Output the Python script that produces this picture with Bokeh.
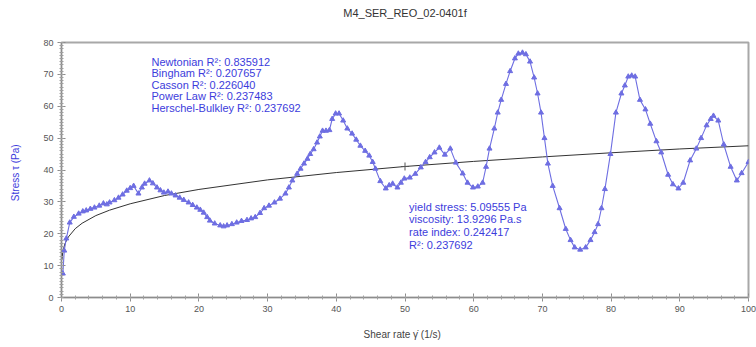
from bokeh.plotting import figure
from bokeh.models import Range1d, Label, FixedTicker, Title
from bokeh.embed import file_html
from bokeh.resources import INLINE

# measured data (shear rate, stress)
shear_rate = [0.2, 0.4, 0.7, 1.2, 1.8, 2.5, 3.1, 3.6, 4.2, 4.8, 5.5, 6.1, 6.6, 7.0, 7.7, 8.3, 8.9, 9.5, 10.0, 10.5,
              11.2, 11.7, 12.1, 12.8, 13.3, 13.9, 14.4, 14.9, 15.5, 16.0, 16.6, 17.2, 17.8, 18.5, 19.1, 19.7, 20.2,
              20.7, 21.2, 21.6, 22.3, 23.1, 23.6, 24.1, 24.8, 25.5, 26.2, 27.0, 27.6, 28.2, 28.9, 29.5, 30.2, 31.0,
              31.8, 32.6, 33.1, 33.6, 34.3, 34.8, 35.3, 35.8, 36.2, 36.7, 37.2, 37.6, 38.0, 38.5, 39.0, 39.4, 39.9,
              40.4, 41.0, 41.6, 42.3, 42.9, 43.5, 44.2, 44.8, 45.3, 45.7, 46.4, 47.2, 47.7, 48.2, 48.9, 49.4, 49.9,
              50.7, 51.5, 52.3, 53.0, 53.6, 54.3, 55.0, 55.8, 56.6, 57.4, 58.4, 59.1, 59.9, 60.6, 61.3, 61.8, 62.3,
              63.0, 63.5, 64.0, 64.7, 65.3, 66.0, 66.5, 67.1, 67.6, 68.2, 68.8, 69.3, 69.8, 70.3, 70.8, 71.5, 72.5,
              73.4, 74.1, 74.7, 75.5, 76.3, 77.0, 77.6, 78.1, 78.6, 79.1, 79.9, 80.7, 81.5, 82.0, 82.5, 83.0, 83.5,
              84.2, 85.0, 85.7, 86.6, 87.3, 88.3, 89.0, 89.8, 90.5, 91.5, 92.4, 93.1, 93.9, 94.5, 94.9, 95.6, 96.4,
              97.4, 98.3, 99.0, 100.0]
stress = [7.5, 14.7, 18.5, 23.5, 25.3, 26.3, 27.0, 27.3, 27.8, 28.2, 28.8, 29.5, 29.2, 29.8, 30.5, 31.3, 32.3, 33.5,
          34.3, 35.0, 32.6, 34.5, 35.7, 36.7, 35.8, 34.5, 33.6, 32.9, 33.2, 32.6, 32.0, 31.3, 30.6, 29.8, 29.0, 28.2,
          27.5, 26.6, 25.2, 24.1, 23.2, 22.6, 22.3, 22.6, 23.0, 23.5, 24.0, 24.3, 24.8, 25.2, 26.5, 28.0, 28.8, 29.8,
          31.0, 32.6, 34.5, 36.7, 38.8, 40.4, 42.0, 43.5, 45.0, 46.5, 48.6, 50.5, 52.3, 52.3, 52.5, 56.0, 57.7, 57.7,
          55.5, 53.0, 51.4, 49.5, 47.6, 46.0, 44.5, 42.5, 40.4, 36.5, 34.2, 35.2, 35.7, 34.5, 36.0, 37.3, 37.6, 38.8,
          40.8, 42.5, 44.0, 45.5, 47.0, 44.8, 46.7, 42.3, 38.9, 36.0, 34.5, 34.8, 36.0, 41.0, 46.7, 53.0, 58.0, 62.0,
          67.0, 71.0, 75.0, 76.5, 76.8, 76.3, 74.0, 69.0, 64.0, 58.0, 50.0, 42.0, 35.0, 28.0, 21.5, 18.0, 15.7, 15.0,
          15.7, 18.0, 20.5, 23.0, 28.0, 34.0, 45.0, 58.0, 64.0, 66.5, 69.3, 69.6, 69.3, 62.0, 59.0, 54.5, 49.0, 45.5,
          38.5, 35.5, 34.2, 36.0, 43.0, 46.7, 50.0, 54.0, 56.0, 57.0, 55.5, 48.0, 41.0, 36.7, 39.0, 42.5]

# Herschel-Bulkley fit curve
fit_rate = [0.05, 0.2, 0.5, 1, 2, 3, 5, 7, 10, 15, 20, 30, 40, 50, 60, 70, 80, 90, 100]
fit_stress = [11.8, 14.5, 16.9, 19.0, 21.6, 23.3, 25.7, 27.4, 29.4, 32.0, 33.9, 36.9, 39.2, 41.1, 42.7, 44.1, 45.4,
              46.6, 47.6]

cursor_x = [50.0]
cursor_y = [41.1]

title_text = "M4_SER_REO_02-0401f"
x_label = "Shear rate  \u03b3\u0307  (1/s)"
y_label = "Stress  \u03c4  (Pa)"
fit_lines = ["Newtonian R\u00b2: 0.835912", "Bingham R\u00b2: 0.207657", "Casson R\u00b2: 0.226040",
             "Power Law R\u00b2: 0.237483", "Herschel-Bulkley R\u00b2: 0.237692"]
param_lines = ["yield stress: 5.09555 Pa", "viscosity: 13.9296 Pa.s", "rate index: 0.242417",
               "R\u00b2: 0.237692"]
x_ticks = [0, 10, 20, 30, 40, 50, 60, 70, 80, 90, 100]
x_minor = [2 * i for i in range(51)]
y_ticks = [0, 10, 20, 30, 40, 50, 60, 70, 80]
y_minor = [i for i in range(81)]

LINE = "#6e6ee2"
TEXT_BLUE = "#3c3cdc"
FONT = "Liberation Sans"

p = figure(width=756, height=347, output_backend="svg", toolbar_location=None,
           x_range=Range1d(0, 100), y_range=Range1d(0, 80), title_location=None,
           min_border_left=61, min_border_right=8, min_border_top=42, min_border_bottom=50)
# spacer panel next to the frame, then the visible title above it
p.add_layout(Title(text=" ", text_font_size="10px", standoff=11), "above")
p.add_layout(Title(text=title_text, align="center", text_font=FONT, text_font_size="11px",
                   text_font_style="normal", text_color="#333333", standoff=0), "above")
p.grid.visible = False
p.outline_line_color = "#a8a8a8"
p.outline_line_width = 2
p.background_fill_color = "white"
p.border_fill_color = "white"

for ax, ticks, minor in ((p.xaxis[0], x_ticks, x_minor), (p.yaxis[0], y_ticks, y_minor)):
    ax.ticker = FixedTicker(ticks=ticks, minor_ticks=minor)
    ax.axis_line_color = "#8c8c8c"
    ax.major_tick_line_color = "#8c8c8c"
    ax.minor_tick_line_color = "#a0a0a0"
    ax.major_tick_in = 4
    ax.major_tick_out = 4
    ax.minor_tick_in = 2
    ax.minor_tick_out = 2
    ax.major_label_text_font = FONT
    ax.major_label_text_font_size = "9px"
    ax.major_label_text_color = "#555555"
    ax.major_label_standoff = 4
    ax.axis_label_text_font = FONT
    ax.axis_label_text_font_size = "10px"
    ax.axis_label_text_font_style = "normal"

p.xaxis.axis_label = x_label
p.xaxis.axis_label_text_color = "#444444"
p.xaxis.axis_label_standoff = 14
p.yaxis.axis_label = y_label
p.yaxis.axis_label_text_color = TEXT_BLUE
p.yaxis.axis_label_standoff = 19

p.line(fit_rate, fit_stress, line_color="#333333", line_width=1)
p.line(shear_rate, stress, line_color=LINE, line_width=1.1)
p.scatter(shear_rate, stress, marker="triangle", size=5, fill_color=LINE, line_color=LINE)
p.scatter(cursor_x, cursor_y, marker="cross", size=8, line_color="#555555")

for i, t in enumerate(fit_lines):
    p.add_layout(Label(x=13.1, y=74.0 - i * 3.6, text=t, text_baseline="middle",
                       text_font=FONT, text_font_size="11px", text_color=TEXT_BLUE))
for i, t in enumerate(param_lines):
    p.add_layout(Label(x=50.6, y=28.5 - i * 4.0, text=t, text_baseline="middle",
                       text_font=FONT, text_font_size="11px", text_color=TEXT_BLUE))

open("out.html", "w").write(file_html(p, INLINE))
